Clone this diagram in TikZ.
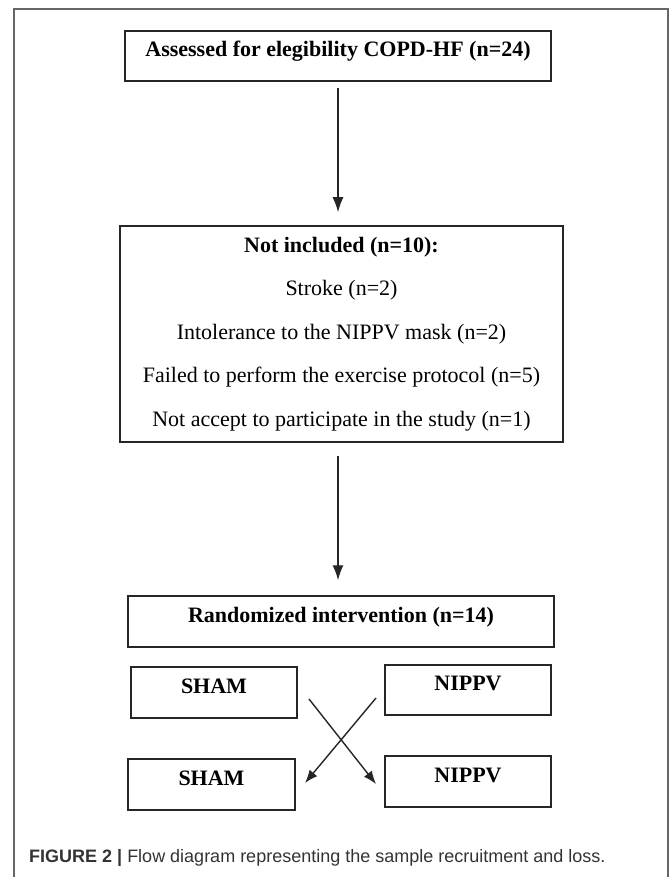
\documentclass[tikz,border=0pt]{standalone}
\usepackage{fontspec}
\setmainfont{Liberation Serif}
\newfontfamily\capfont{Liberation Sans}
\usetikzlibrary{arrows.meta}

\begin{document}
\begin{tikzpicture}[x=1pt,y=-1pt,
  box/.style={draw=black!85, line width=1.5pt, inner sep=0pt, font=\fontsize{22}{26}\selectfont},
  single/.style={box, text height=15pt, text depth=14pt},
  arr/.style={line width=1.4pt, black!85, -{Latex[length=15pt,width=11pt]}}]

\useasboundingbox (0,0) rectangle (670,877);

% Frame

\draw [gray!80!black, line width=1.2pt] (14,877) -- (14,9) -- (668,9) -- (668,877);

% Boxes

\node [single, minimum width=426pt, minimum height=50pt] (assessed) at (338,56) {\textbf{Assessed for elegibility COPD-HF (n=24)}};

\node [box, align=center, minimum width=443pt, minimum height=216pt, font=\fontsize{22}{43.5}\selectfont] (notincl) at (341.5,334) {\textbf{Not included (n=10):}\\ Stroke (n=2)\\ Intolerance to the NIPPV mask (n=2)\\ Failed to perform the exercise protocol (n=5)\\ Not accept to participate in the study (n=1)};

\node [single, minimum width=426pt, minimum height=51pt] (random) at (341,621.5) {\textbf{Randomized intervention (n=14)}};

\node [single, minimum width=166pt, minimum height=51pt] (shamA) at (214,692.5) {\textbf{SHAM}};
\node [single, minimum width=166pt, minimum height=50pt] (nippvA) at (468,690) {\textbf{NIPPV}};
\node [single, minimum width=167pt, minimum height=51pt] (shamB) at (211.5,784.5) {\textbf{SHAM}};
\node [single, minimum width=166pt, minimum height=51pt] (nippvB) at (468,781.5) {\textbf{NIPPV}};

% Arrows

\draw [arr, shorten <=6pt, shorten >=13pt] (assessed.south) -- (assessed.south |- notincl.north);
\draw [arr, shorten <=13pt, shorten >=15pt] (assessed.south |- notincl.south) -- (assessed.south |- random.north);

%Cross
\coordinate (shamstart) at (309,699);
\coordinate (nippvend) at (376,784);
\coordinate (nippvstart) at (376,698);
\coordinate (shamend) at (305,783);

\draw [arr, -{Latex[length=13pt,width=10pt]}] (shamstart) -- (nippvend);
\draw [arr, -{Latex[length=13pt,width=10pt]}] (nippvstart) -- (shamend);

% Caption

\node [anchor=base west, inner sep=0pt, text=black!80, font=\capfont\fontsize{18}{22}\selectfont] (caption) at (29,862) {\textbf{FIGURE 2 |} Flow diagram representing the sample recruitment and loss.};
\end{tikzpicture}
\end{document}
